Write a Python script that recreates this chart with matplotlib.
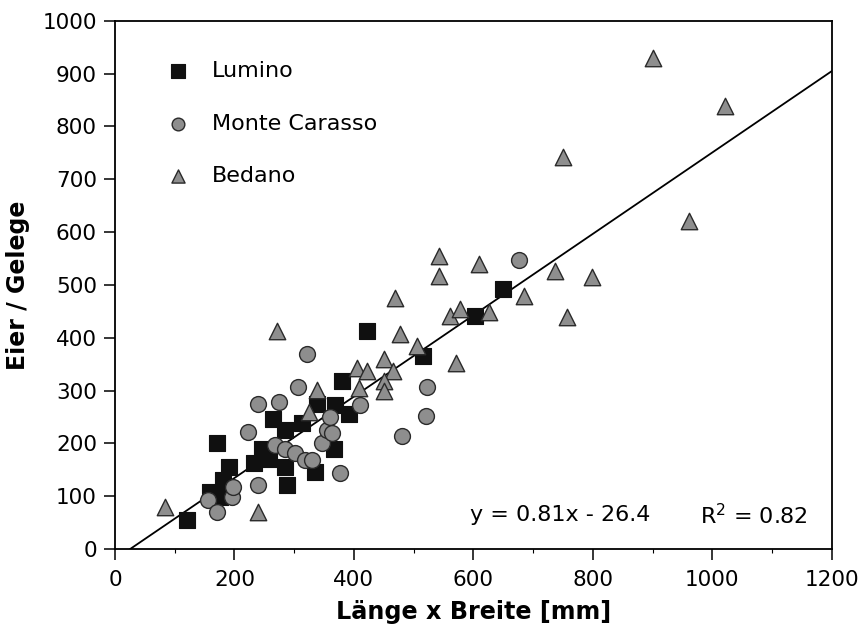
import numpy as np
import matplotlib
matplotlib.use("Agg")
import matplotlib.pyplot as plt
from matplotlib.ticker import MultipleLocator

plt.rcParams['font.family'] = ['DejaVu Sans']

# data (Laenge x Breite [mm], Eier / Gelege)
lumino_x = [120, 159, 176, 181, 190, 170, 232, 246, 265, 257, 285, 285, 288,
            313, 335, 338, 369, 366, 380, 391, 422, 516, 602, 650]
lumino_y = [55, 108, 99, 130, 156, 201, 162, 190, 246, 171, 225, 156, 121,
            238, 146, 275, 272, 190, 318, 256, 413, 365, 441, 492]

monte_x = [156, 170, 196, 198, 223, 240, 240, 268, 274, 285, 302, 307, 318,
           321, 330, 346, 355, 360, 363, 377, 411, 480, 522, 521, 677]
monte_y = [93, 71, 99, 118, 222, 275, 121, 197, 278, 190, 181, 306, 168,
           369, 168, 200, 225, 250, 219, 143, 272, 214, 306, 252, 547]

bedano_x = [84, 240, 271, 324, 338, 408, 405, 422, 450, 466, 450, 450, 469,
            478, 506, 542, 542, 561, 571, 577, 609, 626, 684, 736, 750, 757,
            799, 901, 961, 1021]
bedano_y = [80, 71, 413, 260, 301, 304, 343, 337, 359, 337, 318, 299, 476,
            407, 384, 555, 517, 441, 353, 454, 539, 448, 479, 527, 742, 439,
            514, 930, 621, 839]

# regression line as drawn in the figure
line_slope = 0.77
line_intercept = -19.5
eq_text = "y = 0.81x - 26.4"
r2_text = "R$^2$ = 0.82"

fig = plt.figure(figsize=(8.63, 6.32), dpi=100)
ax = fig.add_axes([0.1333, 0.1313, 0.8304, 0.8359])

xl = np.linspace(-line_intercept / line_slope, 1200, 50)
ax.plot(xl, line_slope * xl + line_intercept, color='black', lw=1.3, zorder=1)

ax.scatter(lumino_x, lumino_y, marker='s', s=140, c='#101010',
           edgecolors='#101010', linewidths=0.8, label='Lumino', zorder=3)
ax.scatter(monte_x, monte_y, marker='o', s=130, c='#8e8e8e',
           edgecolors='#2a2a2a', linewidths=1.0, label='Monte Carasso', zorder=3)
ax.scatter(bedano_x, bedano_y, marker='^', s=140, c='#8e8e8e',
           edgecolors='#2a2a2a', linewidths=1.0, label='Bedano', zorder=3)

ax.set_xlim(0, 1200)
ax.set_ylim(0, 1000)
ax.xaxis.set_major_locator(MultipleLocator(200))
ax.xaxis.set_minor_locator(MultipleLocator(100))
ax.yaxis.set_major_locator(MultipleLocator(100))
ax.tick_params(axis='both', which='major', direction='out', length=8,
               width=1.1, labelsize=15.5, pad=5)
ax.tick_params(axis='x', which='major', pad=7)
ax.tick_params(axis='x', which='minor', direction='out', length=3, width=0.8)
for sp in ax.spines.values():
    sp.set_linewidth(1.3)

ax.set_xlabel('Länge x Breite [mm]', fontsize=17.2, fontweight='bold', labelpad=7)
ax.set_ylabel('Eier / Gelege', fontsize=17, fontweight='bold', labelpad=9)

ax.text(595, 64, eq_text, fontsize=16, va='center', ha='left')
ax.text(980, 64, r2_text, fontsize=16, va='center', ha='left')

leg = ax.legend(loc='upper left', bbox_to_anchor=(0.045, 0.94), frameon=False,
                fontsize=16, markerscale=0.8, labelspacing=1.45,
                handletextpad=0.5, borderaxespad=0)

fig.savefig('out.png', dpi=100)
